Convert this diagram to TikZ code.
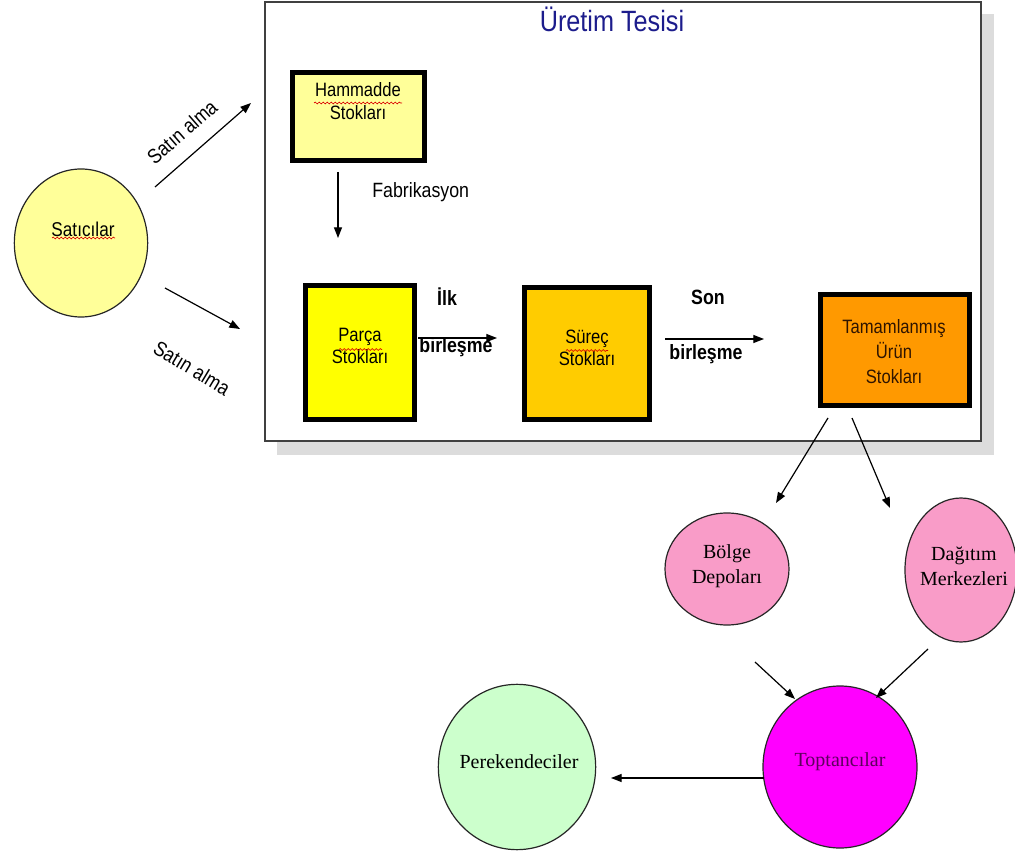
\documentclass[tikz,border=0pt]{standalone}
\usepackage{fontspec}
\setmainfont{Liberation Sans}
\newfontfamily\narrowsf[FakeStretch=0.86]{Liberation Sans}
\newfontfamily\timesf{Liberation Serif}
\usetikzlibrary{arrows.meta,decorations.pathmorphing,shapes.geometric}
\definecolor{navyt}{HTML}{1C1C8C}
\definecolor{lightyel}{HTML}{FFFF99}
\definecolor{partyel}{HTML}{FFFF00}
\definecolor{procor}{HTML}{FFCC00}
\definecolor{finor}{HTML}{FF9900}
\definecolor{pinkc}{HTML}{F99CC8}
\definecolor{magc}{HTML}{FF00FF}
\definecolor{purpt}{HTML}{5E005E}
\definecolor{greenc}{HTML}{CCFFCC}
\definecolor{shadowc}{HTML}{DCDCDC}
\definecolor{browntxt}{HTML}{2E1400}
\begin{document}
\begin{tikzpicture}[x=0.75pt,y=-0.75pt,
  stockbox/.style={draw=black,line width=3.6pt,inner sep=0pt},
  arr/.style={draw=black,line width=0.9pt,-{Triangle[length=8pt,width=6pt]}},
  sftext/.style={font=\narrowsf\fontsize{14.5}{17}\selectfont,align=center,inner sep=0pt},
  lbl/.style={font=\narrowsf\fontsize{15.5}{18}\selectfont,inner sep=0pt},
  blbl/.style={font=\narrowsf\bfseries\fontsize{15.5}{18}\selectfont,inner sep=0pt},
  serift/.style={font=\timesf\fontsize{15}{18.75}\selectfont,align=center,inner sep=0pt},
  oval/.style={ellipse,draw=black!85,line width=0.9pt,inner sep=0pt},
  wavy/.style={draw=red!85!black,line width=0.5pt,decorate,decoration={snake,amplitude=0.7pt,segment length=3pt}}
]
\useasboundingbox (0,0) rectangle (1015,852);

% production facility frame with shadow
\fill[shadowc] (277,14) rectangle (994,455);
\node[draw=black!75,fill=white,line width=1.1pt,minimum width=537pt,minimum height=329pt,inner sep=0pt] (plant) at (623,221.5) {};
\node[font=\narrowsf\fontsize{22}{24}\selectfont,text=navyt,inner sep=0pt] (title) at (612,19) {Üretim Tesisi};

% stock boxes
\node[stockbox,fill=lightyel,minimum width=99pt,minimum height=66pt] (ham) at (358.5,116.5) {};
\node[sftext] (hamt) at (358,101) {Hammadde\\Stokları};
\draw[wavy] (314,103) -- (402,103);

\node[stockbox,fill=partyel,minimum width=82pt,minimum height=100.5pt] (par) at (360,352.5) {};
\node[sftext] (part) at (360,346) {Parça\\Stokları};
\draw[wavy] (339,349.5) -- (382,349.5);

\node[stockbox,fill=procor,minimum width=94pt,minimum height=99pt] (sur) at (587,353.5) {};
\node[sftext] (surt) at (587,348) {Süreç\\Stokları};
\draw[wavy] (566,350.5) -- (608,350.5);

\node[stockbox,fill=finor,minimum width=112pt,minimum height=83pt] (tam) at (895,350) {};
\node[sftext,font=\narrowsf\fontsize{14.5}{18.75}\selectfont,text=browntxt] (tamt) at (894,352) {Tamamlanmış\\Ürün\\Stokları};

% vendors
\node[oval,fill=lightyel,minimum width=100pt,minimum height=111pt] (sat) at (81,243) {};
\node[sftext,font=\narrowsf\fontsize{15}{16}\selectfont] (satt) at (83,229) {Satıcılar};
\draw[wavy] (52,238) -- (115,238);

\coordinate (s1a) at (155,187);
\coordinate (s1b) at (251,103);
\draw[arr] (s1a) -- (s1b);
\node[lbl,rotate=41] (s1l) at (182,132) {Satın alma};

\coordinate (s2a) at (165,288);
\coordinate (s2b) at (240,329);
\draw[arr] (s2a) -- (s2b);
\node[lbl,rotate=-31] (s2l) at (192,368) {Satın alma};

% fabrication
\coordinate (f1a) at (338,172);
\coordinate (f1b) at (338,238);
\draw[arr] (f1a) -- (f1b);
\node[lbl,anchor=west] (fabl) at (372,192) {Fabrikasyon};

% first assembly
\node[blbl] (ilk) at (447,297) {İlk};
\node[blbl] (bir1) at (456,347) {birleşme};
\coordinate (b1a) at (418,338);
\coordinate (b1b) at (497,338);
\draw[arr] (b1a) -- (b1b);

% final assembly
\node[blbl] (son) at (708,297) {Son};
\node[blbl] (bir2) at (706,354) {birleşme};
\coordinate (b2a) at (665,339);
\coordinate (b2b) at (764,339);
\draw[arr] (b2a) -- (b2b);

% distribution
\node[oval,fill=pinkc,minimum width=93pt,minimum height=84pt] (bol) at (727,569) {};
\node[serift] (bolt) at (727,566) {Bölge\\Depoları};
\node[oval,fill=pinkc,minimum width=84pt,minimum height=108pt] (dag) at (961,570) {};
\node[serift] (dagt) at (964,566) {Dağıtım\\Merkezleri};

\coordinate (t1a) at (828,418);
\coordinate (t1b) at (776,503);
\draw[arr] (t1a) -- (t1b);
\coordinate (t2a) at (852,418);
\coordinate (t2b) at (890,508);
\draw[arr] (t2a) -- (t2b);

\node[oval,fill=magc,minimum width=115.5pt,minimum height=121.5pt] (top) at (840,767) {};
\node[serift,text=purpt] (topt) at (840,762) {Toptancılar};
\node[oval,fill=greenc,minimum width=118pt,minimum height=124pt] (per) at (517,767) {};
\node[serift] (pert) at (519,762) {Perekendeciler};

\coordinate (w1a) at (755,662);
\coordinate (w1b) at (795,699);
\draw[arr] (w1a) -- (w1b);
\coordinate (w2a) at (928,649);
\coordinate (w2b) at (876,698);
\draw[arr] (w2a) -- (w2b);

\coordinate (r1a) at (764,778);
\coordinate (r1b) at (611,778);
\draw[arr] (r1a) -- (r1b);
\end{tikzpicture}
\end{document}
